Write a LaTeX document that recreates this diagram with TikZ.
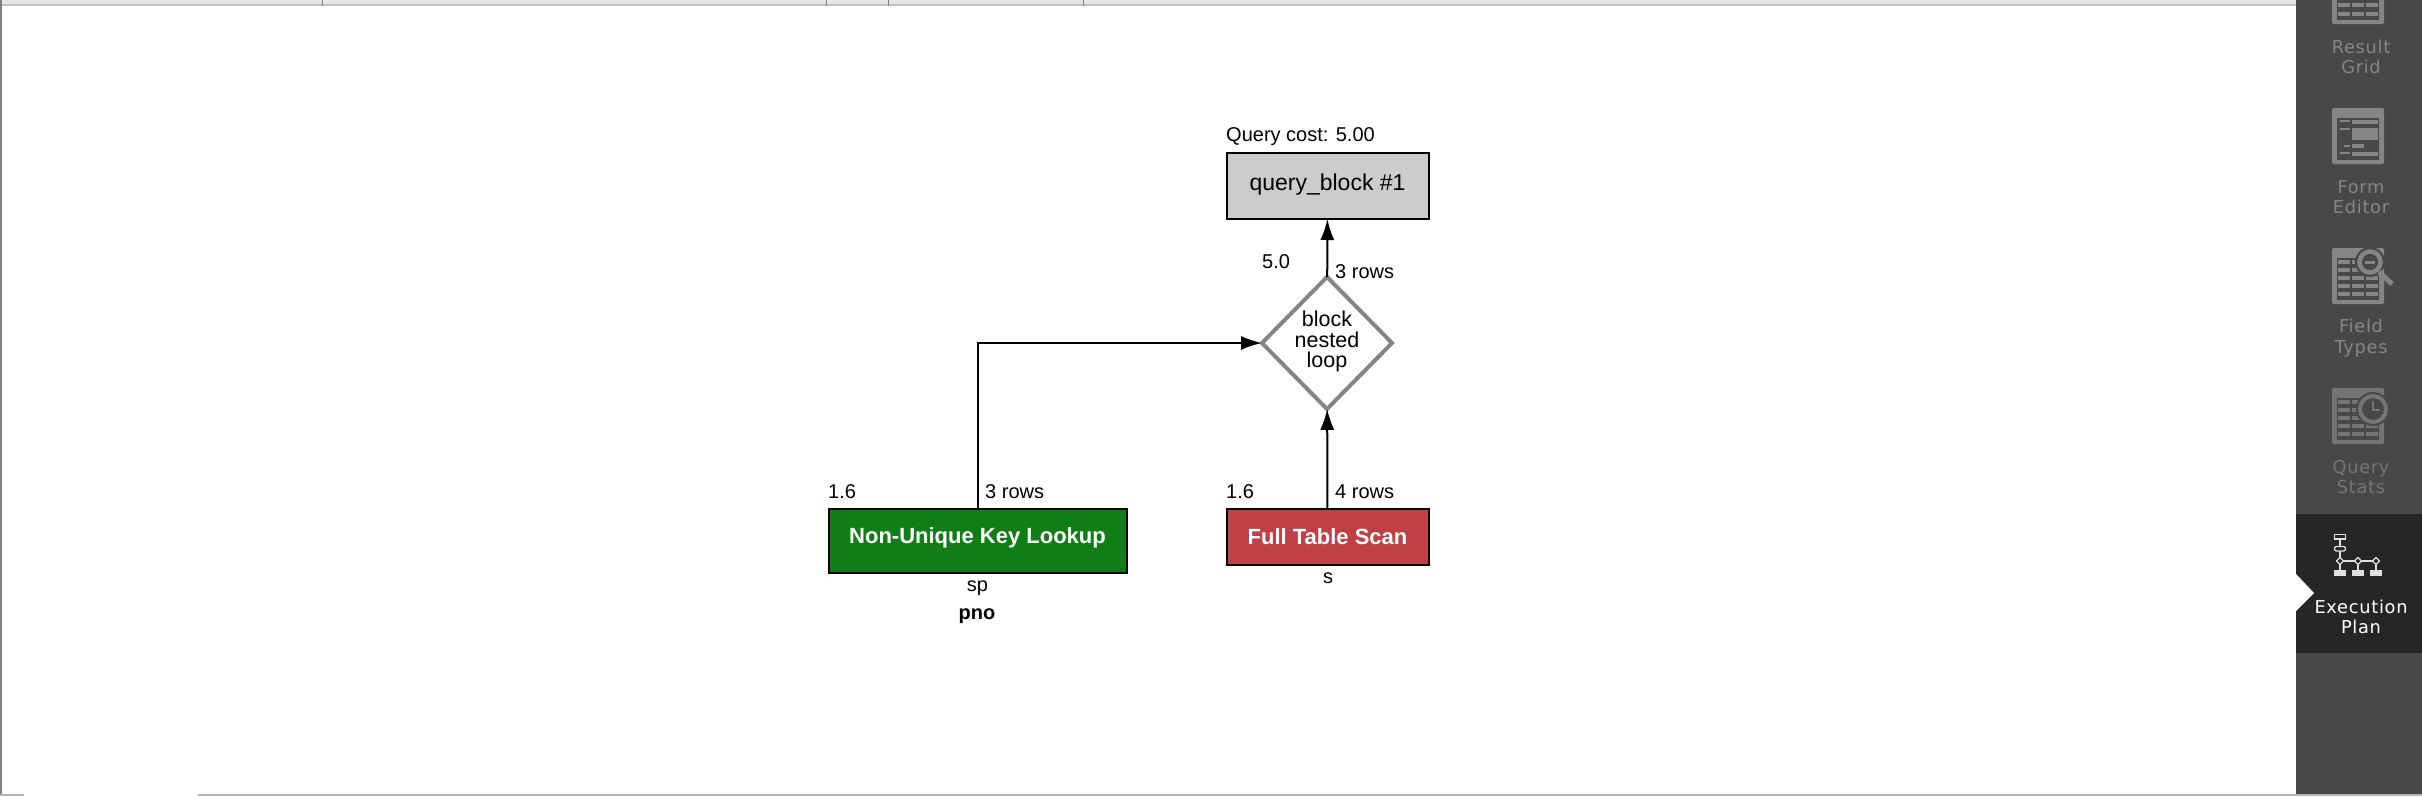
\documentclass[tikz,border=0pt]{standalone}
\usepackage{fontspec}
\setmainfont{Liberation Sans}
\newfontfamily\sidefont[LetterSpace=4]{DejaVu Sans}
\usetikzlibrary{shapes.geometric,arrows.meta}
\definecolor{planbar}{HTML}{484848}
\definecolor{planselected}{HTML}{262626}
\definecolor{planicon}{HTML}{858585}
\definecolor{planicondim}{HTML}{747474}
\definecolor{plantop}{HTML}{E6E6E6}
\definecolor{planedge}{HTML}{C4C4C4}
\definecolor{plangreen}{HTML}{117D16}
\definecolor{planred}{HTML}{BF4045}
\newcommand{\sheet}[3]{% colour, top, bottom
  \fill[#1,rounded corners=1.5pt] (2332,#2) rectangle (2384,#3);
  \fill[planbar] (2337,#2+10) rectangle (2379,#3-4);
}
\newcommand{\gridrow}[2]{% colour, top
  \foreach \col in {2338,2352,2366}
    \fill[#1] (\col,#2) rectangle (\col+12,#2+4);
}
\tikzset{
  plabel/.style={font=\fontsize{20}{20}\selectfont,inner sep=0pt},
  sidetext/.style={font=\sidefont\fontsize{17.8}{20.3}\selectfont,align=center,inner sep=0pt,text=planicon},
  opbox/.style={draw=black,line width=2pt,inner sep=0pt,outer sep=0pt,font=\fontsize{22}{22}\selectfont\bfseries,text=white},
}
\begin{document}
\begin{tikzpicture}[x=1pt,y=-1pt,>={Latex[length=21pt,width=14pt]}]
  \useasboundingbox (0,0) rectangle (2422,796);
  \fill[white] (0,0) rectangle (2422,796);
  % The window edges
  \fill[plantop] (0,0) rectangle (2296,4);
  \fill[planedge] (0,4) rectangle (2296,6);
  \foreach \sep in {322,826,888,1083}
    \draw[gray,line width=0.8pt] (\sep,0) -- (\sep,6);
  \fill[gray] (0,0) rectangle (2,796);
  \fill[planedge!80!gray] (0,794) rectangle (24,796);
  \fill[planedge!80!gray] (198,794) rectangle (2296,796);
  % The side bar
  \fill[planbar] (2296,0) rectangle (2422,794);
  \fill[planedge!80!gray] (2296,794) rectangle (2422,796);
  \fill[planselected] (2296,514) rectangle (2422,653);
  \fill[white] (2296,574) -- (2314,593) -- (2296,611) -- cycle;
  % Result Grid
  \fill[planicon,rounded corners=1.5pt] (2332,-10) rectangle (2384,24);
  \fill[planbar] (2337,-10) rectangle (2379,20);
  \gridrow{planicon}{3}
  \gridrow{planicon}{12}
  \node[sidetext] (resultgrid) at (2361,57) {Result\\Grid};
  % Form Editor
  \sheet{planicon}{108}{164}
  \fill[planicon] (2340,120) rectangle (2350,122);
  \fill[planicon] (2352,120) rectangle (2378,124);
  \fill[planicon] (2340,128) rectangle (2350,130);
  \fill[planicon] (2352,128) rectangle (2378,140);
  \fill[planicon] (2344,145) rectangle (2350,147);
  \fill[planicon] (2352,144) rectangle (2364,148);
  \fill[planicon] (2340,152) rectangle (2350,154);
  \fill[planicon] (2352,152) rectangle (2378,156);
  \node[sidetext] (formeditor) at (2361,197) {Form\\Editor};
  % Field Types
  \sheet{planicon}{248}{304}
  \foreach \row in {260,268,276,284,292}
    {\gridrow{planicon}{\row}}
  \fill[planbar] (2370,262) circle (15pt);
  \draw[planicon,line width=5pt] (2379,272) -- (2392,284);
  \draw[planicon,line width=4.5pt,fill=planbar] (2370,262) circle (10.5pt);
  \fill[planicon] (2365,260.5) rectangle (2375,264);
  \node[sidetext] (fieldtypes) at (2361,338) {Field\\Types};
  % Query Stats
  \sheet{planicondim}{388}{444}
  \foreach \row in {400,408,416,424,432}
    {\gridrow{planicondim}{\row}}
  \fill[planbar] (2373,409) circle (17pt);
  \draw[planicondim,line width=4pt,fill=planbar] (2373,409) circle (13pt);
  \draw[planicondim,line width=2pt] (2373,401) -- (2373,410) -- (2380,410);
  \node[sidetext,text=planicondim] (querystats) at (2361,477) {Query\\Stats};
  % Execution Plan
  \foreach \col in {2340,2358,2376}
  {
    \draw[white!88!black,line width=2.5pt] (\col,561) -- (\col,572);
    \fill[white!88!black] (\col-6,570) rectangle (\col+6,576);
  }
  \draw[white!88!black,line width=2.5pt] (2340,539) -- (2340,561) -- (2376,561);
  \foreach \col in {2340,2358,2376}
    \draw[white!88!black,line width=1.3pt,fill=planselected] (\col,557.5) -- (\col+3.5,561) -- (\col,564.5) -- (\col-3.5,561) -- cycle;
  \draw[white!88!black,line width=1.3pt,fill=planselected] (2334.5,534.5) rectangle (2345.5,539);
  \draw[white!88!black,line width=1.3pt,fill=planselected,rounded corners=1.5pt] (2334.5,546.5) rectangle (2345.5,551);
  \node[sidetext,text=white] (execplan) at (2361,617) {Execution\\Plan};
  % The plan boxes
  \node[draw=black,line width=2pt,fill=black!20,minimum width=202pt,minimum height=66pt,inner sep=0pt,outer sep=0pt,
    font=\fontsize{23}{23}\selectfont] (qblock) at (1327.5,186) {\raisebox{7.6pt}{query\_block \#1}};
  \node[diamond,draw=planicon,line width=4pt,fill=white,minimum width=130pt,minimum height=132pt,inner sep=0pt,outer sep=0pt,
    align=center,text depth=7.5pt,font=\fontsize{21.5}{20.5}\selectfont] (bnl) at (1327,343) {block\\nested\\loop};
  \node[opbox,fill=plangreen,minimum width=298pt,minimum height=64pt] (lookup) at (977.5,540.5) {\raisebox{10pt}{Non-Unique Key Lookup}};
  \node[opbox,fill=planred,minimum width=202pt,minimum height=56pt] (scan) at (1327.5,536.5) {Full Table Scan};
  % The connectors
  \draw[->,line width=2pt] (scan) -- (bnl);
  \draw[->,line width=2pt] (bnl) -- (qblock);
  \draw[->,line width=2pt] (lookup) |- (bnl);
  % The labels
  \node[plabel,anchor=base west] (qcost) at (1226,141) {Query cost: 5.00};
  \node[plabel,anchor=base west] (bnlcost) at (1262,268.5) {5.0};
  \node[plabel,anchor=base west] (bnlrows) at (1335,278) {3 rows};
  \node[plabel,anchor=base west] (lookupcost) at (828,498) {1.6};
  \node[plabel,anchor=base west] (lookuprows) at (985,498) {3 rows};
  \node[plabel,anchor=base west] (scancost) at (1226,498) {1.6};
  \node[plabel,anchor=base west] (scanrows) at (1335,498) {4 rows};
  \node[plabel,anchor=base] (lookuptab) at (977.5,591) {sp};
  \node[plabel,anchor=base,font=\fontsize{20}{20}\selectfont\bfseries] (lookupkey) at (977,619) {pno};
  \node[plabel,anchor=base] (scantab) at (1328,583) {s};
\end{tikzpicture}
\end{document}
